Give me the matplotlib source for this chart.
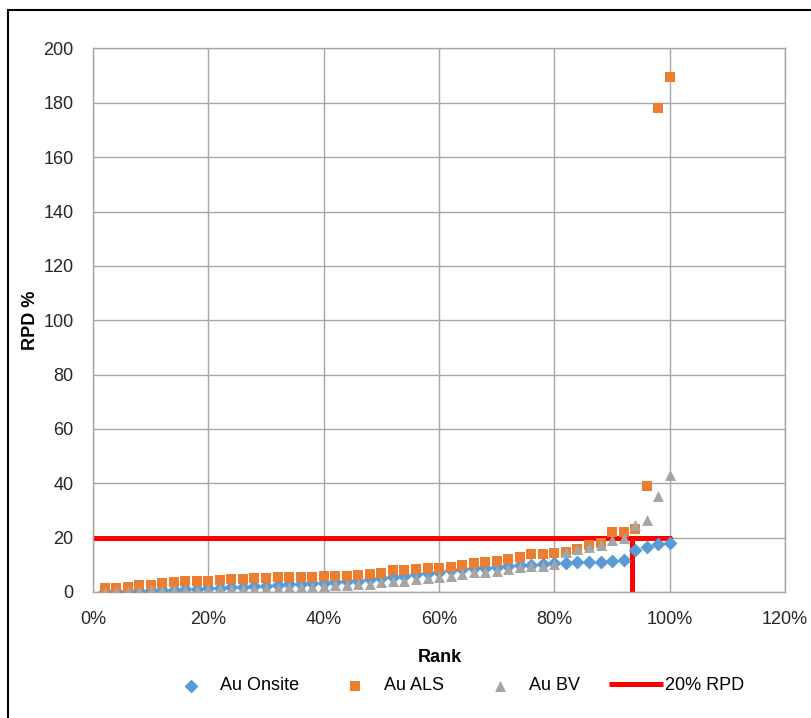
import matplotlib
matplotlib.use("Agg")
import matplotlib.pyplot as plt
from matplotlib.patches import Rectangle

plt.rcParams['font.family'] = ['Liberation Sans', 'DejaVu Sans']

# rank 2% .. 100% in 2% steps
rank = [i / 50 for i in range(1, 51)]

au_onsite = [0.2, 0.3, 0.4, 0.5, 0.6, 0.8, 0.9, 1.0, 1.1, 1.3, 1.5, 1.7, 1.9, 2.1, 2.3,
             2.6, 2.8, 3.0, 3.2, 3.4, 3.6, 3.9, 4.2, 4.6, 5.0, 5.5, 6.0, 6.5, 7.0, 7.5,
             8.0, 8.4, 8.8, 9.0, 9.3, 9.6, 9.9, 10.1, 10.3,
             10.5, 10.7, 10.9, 11.0, 11.2, 11.4, 11.6,
             15.4, 16.4, 17.5, 17.9]

au_als = [1.3, 1.4, 1.7, 2.7, 2.7, 3.2, 3.6, 4.0, 4.0, 4.0, 4.4, 4.8, 4.8, 5.1, 5.1,
          5.6, 5.6, 5.6, 5.6, 6.0, 6.0, 6.0, 6.3, 6.5, 6.9, 8.1, 8.1, 8.4, 8.7, 9.0,
          9.3, 9.9, 10.5, 10.9, 11.5, 12.0, 13.0, 13.8, 13.8, 14.2, 14.8, 16.0, 17.3, 17.9, 22.2, 22.2,
          23.2, 39.0, 178.2, 189.5]

au_bv = [0.1, 0.2, 0.4, 0.5, 0.6, 0.7, 0.8, 0.9, 0.9, 1.0, 1.1, 1.1, 1.2, 1.2, 1.3,
         1.5, 1.7, 1.9, 2.0, 2.2, 2.4, 2.6, 2.8, 3.1, 3.6, 3.9, 4.2, 4.6, 5.0, 5.5,
         6.0, 6.6, 7.2, 7.5, 7.8, 8.5, 9.1, 9.4, 9.7, 10.3, 14.6, 15.8, 16.4, 17.3, 19.1, 19.8,
         24.6, 26.5, 35.4, 43.0]

rpd_x = [0, 1.0, 0.934, 0.934]
rpd_y = [20, 20, 20, 0]

fig = plt.figure(figsize=(8.11, 7.18), dpi=100)
ax = fig.add_axes([0.1147, 0.1755, 0.8533, 0.757])

ax.plot(rpd_x, rpd_y, color='#FF0000', lw=3.6, label='20% RPD', zorder=2, clip_on=False,
        solid_capstyle='butt')
ax.scatter(rank, au_onsite, marker='D', s=50, color='#5B9BD5', label='Au Onsite', zorder=3, linewidths=0)
ax.scatter(rank, au_als, marker='s', s=58, color='#ED7D31', label='Au ALS', zorder=4, linewidths=0)
ax.scatter(rank, au_bv, marker='^', s=62, color='#A5A5A5', label='Au BV', zorder=5, linewidths=0)

ax.set_xlim(0, 1.2)
ax.set_ylim(0, 200)
ax.set_xticks([0, 0.2, 0.4, 0.6, 0.8, 1.0, 1.2])
ax.set_xticklabels(['0%', '20%', '40%', '60%', '80%', '100%', '120%'])
ax.set_yticks(range(0, 201, 20))
ax.tick_params(axis='both', length=0, labelsize=13, colors='#262626')
ax.tick_params(axis='y', pad=14)
ax.tick_params(axis='x', pad=14)
ax.grid(True, color='#A6A6A6', lw=1)
ax.set_axisbelow(True)
for s in ax.spines.values():
    s.set_color('#A6A6A6')
    s.set_linewidth(1)

ax.set_xlabel('Rank', fontsize=13, fontweight='bold')
ax.set_ylabel('RPD %', fontsize=13, fontweight='bold')
ax.xaxis.set_label_coords(0.501, -0.104)
ax.yaxis.set_label_coords(-0.078, 0.5)

h, l = ax.get_legend_handles_labels()
order = [1, 2, 3, 0]
fig.legend([h[i] for i in order], [l[i] for i in order], loc='center',
           bbox_to_anchor=(0.56, 0.0446), ncol=4, frameon=False, fontsize=13,
           handlelength=3.0, handletextpad=0.1, columnspacing=1.6)

fig.patches.append(Rectangle((8 / 811, -0.1), 1.2, 1 - 10 / 718 + 0.1, transform=fig.transFigure,
                             fill=False, edgecolor='black', lw=1.5))

fig.savefig('out.png', dpi=100)
